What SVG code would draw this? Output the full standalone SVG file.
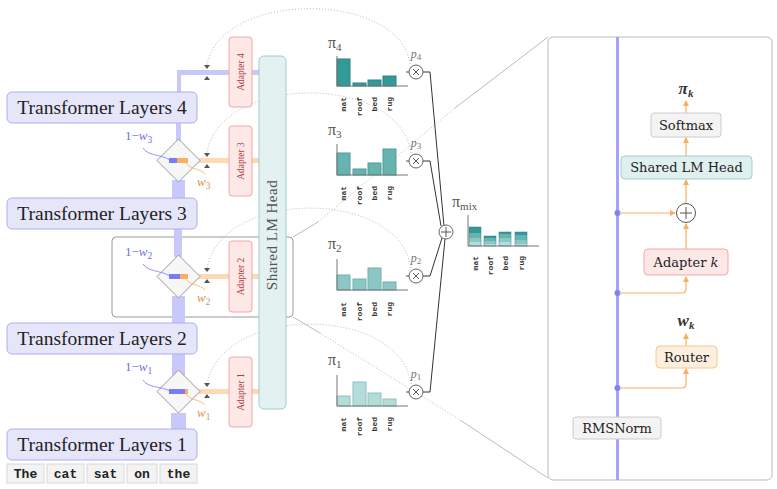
<svg xmlns="http://www.w3.org/2000/svg" width="777" height="489" viewBox="0 0 777 489">
<defs>
<style>
.tl rect{fill:#e6e6fb;stroke:#adadf2;stroke-width:1}
.tl text{font-family:"Liberation Serif",serif;font-size:19.5px;fill:#222;text-anchor:middle}
.tok rect{fill:#f3f3f3;stroke:#d8d8d8;stroke-width:1}
.tok text{font-family:"Liberation Mono",monospace;font-size:13px;font-weight:bold;fill:#222;text-anchor:middle}
.ad rect{fill:#fde8e8;stroke:#f4a6a6;stroke-width:1}
.ad text{font-family:"Liberation Serif",serif;font-size:9.5px;fill:#b03a3a;text-anchor:middle}
.dia{fill:#f7f7f7;stroke:#999;stroke-width:1}
.res{fill:#c8c8fa}
.org{fill:#fdd9b5}
.dot{fill:none;stroke:#bbb;stroke-width:1;stroke-dasharray:1 2}
.tri{fill:#555}
.lbl{font-family:"Liberation Serif",serif;font-size:16px;fill:#555}
.pl{font-family:"Liberation Serif",serif;font-size:12px;font-style:italic;fill:#777;text-anchor:middle}
.ax{fill:none;stroke:#777;stroke-width:1}
.bl{font-family:"Liberation Mono",monospace;font-size:8px;font-weight:bold;fill:#333;text-anchor:end}
.op{fill:#fff;stroke:#666;stroke-width:1}
.opl{fill:none;stroke:#555;stroke-width:1}
.wire{fill:none;stroke:#333;stroke-width:1}
.ob{fill:none;stroke:#f8b060;stroke-width:1.2}
.bw{font-family:"Liberation Serif",serif;font-size:13px;fill:#7070e8}
.ow{font-family:"Liberation Serif",serif;font-size:13px;font-style:italic;fill:#e0924a}
.cb text{font-family:"DejaVu Serif",serif;font-size:13px;fill:#222;text-anchor:middle}
.math{font-family:"Liberation Serif",serif;font-size:17px;font-weight:bold;font-style:italic;fill:#333;text-anchor:middle}
</style>
<marker id="oarr" viewBox="0 0 6 6" refX="5" refY="3" markerWidth="5" markerHeight="5" orient="auto-start-reverse">
<path d="M0,0 L6,3 L0,6 z" fill="#f8b060"/>
</marker>
</defs>
<rect width="777" height="489" fill="#fff"/>

<!-- highlight box and callout lines -->
<g id="callout-links">
<rect x="112" y="237" width="181" height="80" rx="4" fill="none" stroke="#999" stroke-width="1"/>
<path d="M293 237 L318 222" stroke="#bbb" fill="none"/>
<path d="M318 222 L455 108" class="dot" stroke="#ccc"/>
<path d="M455 108 L548 37" stroke="#bbb" fill="none"/>
<path d="M293 317 L320 333" stroke="#bbb" fill="none"/>
<path d="M320 333 L460 420" class="dot" stroke="#ccc"/>
<path d="M460 420 L548 478" stroke="#bbb" fill="none"/>
</g>

<!-- connectors -->
<g id="connectors">
<rect class="res" x="171" y="413" width="15" height="18"/>
<rect class="res" x="172" y="352" width="13" height="24"/>
<rect class="res" x="172" y="296" width="13" height="28"/>
<rect class="res" x="174" y="227" width="8" height="30"/>
<rect class="res" x="172" y="180" width="13" height="20"/>
<rect class="res" x="176" y="121" width="5" height="20"/>
<rect class="res" x="177" y="70" width="4" height="24"/>
<rect class="res" x="177" y="70" width="83" height="5"/>
<rect class="org" x="199" y="158" width="61" height="5"/>
<rect class="org" x="199" y="274" width="61" height="5"/>
<rect class="org" x="199" y="389" width="61" height="5"/>
<path class="dot" d="M410 64 C400 -10 220 -10 207 65"/>
<path class="dot" d="M411 153 C400 73 220 73 207 153"/>
<path class="dot" d="M411 268 C400 188 220 188 207 269"/>
<path class="dot" d="M411 384 C400 304 220 304 207 385"/>
<path class="tri" d="M204 65 L210 65 L207 69 z M204 80 L210 80 L207 76 z"/>
<path class="tri" d="M204 153 L210 153 L207 157 z M204 168 L210 168 L207 164 z"/>
<path class="tri" d="M204 268 L210 268 L207 272 z M204 283 L210 283 L207 279 z"/>
<path class="tri" d="M204 383 L210 383 L207 387 z M204 398 L210 398 L207 394 z"/>
<path class="wire" d="M423 72 L430 72 L444 226"/>
<path class="wire" d="M423 161 L430 161 L441 226"/>
<path class="wire" d="M423 276 L430 276 L442 238"/>
<path class="wire" d="M423 392 L430 392 L445 239"/>
<path class="opl" d="M406 72 H409 M406 161 H409 M406 276 H409 M406 392 H409"/>
</g>

<!-- transformer layers -->
<g id="tl1" class="tl"><rect x="7" y="429" width="190" height="31" rx="5"/><text x="102" y="451">Transformer Layers 1</text></g>
<g id="tl2" class="tl"><rect x="7" y="323" width="190" height="31" rx="5"/><text x="102" y="345">Transformer Layers 2</text></g>
<g id="tl3" class="tl"><rect x="7" y="198" width="190" height="31" rx="5"/><text x="102" y="220">Transformer Layers 3</text></g>
<g id="tl4" class="tl"><rect x="7" y="92" width="190" height="31" rx="5"/><text x="102" y="114">Transformer Layers 4</text></g>

<!-- tokens -->
<g id="tokens" class="tok">
<rect x="7" y="464" width="37" height="19"/><text x="25.5" y="478">The</text>
<rect x="47" y="464" width="37" height="19"/><text x="65.5" y="478">cat</text>
<rect x="87" y="464" width="37" height="19"/><text x="105.5" y="478">sat</text>
<rect x="127" y="464" width="30" height="19"/><text x="142" y="478">on</text>
<rect x="160" y="464" width="37" height="19"/><text x="178.5" y="478">the</text>
</g>

<!-- routers / diamonds -->
<g id="router3">
<path class="dia" d="M178.5 139 L200 160.5 L178.5 182 L157 160.5 z"/>
<rect x="169" y="158" width="8" height="5" fill="#7b7bf5"/><rect x="177" y="158" width="11" height="5" fill="#f8b060"/>
<path d="M143 148 C148 156 160 154 170 160" fill="none" stroke="#7b7bf5" stroke-width="0.8"/>
<path d="M185 162 C190 170 200 168 205 174" fill="none" stroke="#f8b060" stroke-width="0.8"/>
<text class="bw" x="125" y="140">1−<tspan font-style="italic">w</tspan><tspan font-size="9.5" dy="3">3</tspan></text>
<text class="ow" x="197" y="186">w<tspan font-size="9.5" dy="3" font-style="normal">3</tspan></text>
</g>
<g id="router2">
<path class="dia" d="M178.5 255 L200 276.5 L178.5 298 L157 276.5 z"/>
<rect x="169" y="274" width="11" height="5" fill="#7b7bf5"/><rect x="180" y="274" width="8" height="5" fill="#f8b060"/>
<path d="M143 264 C148 272 160 270 170 276" fill="none" stroke="#7b7bf5" stroke-width="0.8"/>
<path d="M185 278 C190 286 200 284 205 290" fill="none" stroke="#f8b060" stroke-width="0.8"/>
<text class="bw" x="125" y="256">1−<tspan font-style="italic">w</tspan><tspan font-size="9.5" dy="3">2</tspan></text>
<text class="ow" x="197" y="302">w<tspan font-size="9.5" dy="3" font-style="normal">2</tspan></text>
</g>
<g id="router1">
<path class="dia" d="M178.5 370 L200 391.5 L178.5 413 L157 391.5 z"/>
<rect x="169" y="389" width="16" height="5" fill="#7b7bf5"/><rect x="185" y="389" width="3" height="5" fill="#f8b060"/>
<path d="M143 380 C148 388 160 386 170 391" fill="none" stroke="#7b7bf5" stroke-width="0.8"/>
<path d="M185 393 C190 401 200 399 205 405" fill="none" stroke="#f8b060" stroke-width="0.8"/>
<text class="bw" x="125" y="371">1−<tspan font-style="italic">w</tspan><tspan font-size="9.5" dy="3">1</tspan></text>
<text class="ow" x="197" y="417">w<tspan font-size="9.5" dy="3" font-style="normal">1</tspan></text>
</g>

<!-- adapters -->
<g id="adapter4" class="ad"><rect x="229" y="37" width="23" height="70" rx="3"/><text transform="translate(243.5 72) rotate(-90)">Adapter 4</text></g>
<g id="adapter3" class="ad"><rect x="229" y="126" width="23" height="70" rx="3"/><text transform="translate(243.5 161) rotate(-90)">Adapter 3</text></g>
<g id="adapter2" class="ad"><rect x="229" y="241" width="23" height="71" rx="3"/><text transform="translate(243.5 276.5) rotate(-90)">Adapter 2</text></g>
<g id="adapter1" class="ad"><rect x="229" y="357" width="23" height="70" rx="3"/><text transform="translate(243.5 392) rotate(-90)">Adapter 1</text></g>

<!-- shared LM head -->
<g id="lmhead">
<rect x="259" y="56" width="27" height="353" rx="5" fill="#e3f1f0" stroke="#9ccfca"/>
<text transform="translate(277 235) rotate(-90)" font-family="Liberation Serif, serif" font-size="15" fill="#555" text-anchor="middle" letter-spacing="0.5">Shared LM Head</text>
</g>

<!-- distributions -->
<g id="pi4">
<text class="lbl" x="328" y="48">π<tspan font-size="11" dy="3">4</tspan></text>
<rect x="337" y="59" width="13" height="27" fill="#339999" stroke="#2b8585"/>
<rect x="353" y="83" width="13" height="3" fill="#339999" stroke="#2b8585"/>
<rect x="368" y="80" width="13" height="6" fill="#339999" stroke="#2b8585"/>
<rect x="383" y="76" width="13" height="10" fill="#339999" stroke="#2b8585"/>
<path class="ax" d="M337 56 V86 H408"/>
<text class="bl" transform="translate(346 97) rotate(-90)">mat</text>
<text class="bl" transform="translate(362 97) rotate(-90)">roof</text>
<text class="bl" transform="translate(377 97) rotate(-90)">bed</text>
<text class="bl" transform="translate(392 97) rotate(-90)">rug</text>
</g>
<g id="pi3">
<text class="lbl" x="328" y="135">π<tspan font-size="11" dy="3">3</tspan></text>
<rect x="337" y="153" width="13" height="22" fill="#66b3b0" stroke="#4f9c99"/>
<rect x="353" y="169" width="13" height="6" fill="#66b3b0" stroke="#4f9c99"/>
<rect x="368" y="163" width="13" height="12" fill="#66b3b0" stroke="#4f9c99"/>
<rect x="383" y="149" width="13" height="26" fill="#66b3b0" stroke="#4f9c99"/>
<path class="ax" d="M337 144 V175 H408"/>
<text class="bl" transform="translate(346 186) rotate(-90)">mat</text>
<text class="bl" transform="translate(362 186) rotate(-90)">roof</text>
<text class="bl" transform="translate(377 186) rotate(-90)">bed</text>
<text class="bl" transform="translate(392 186) rotate(-90)">rug</text>
</g>
<g id="pi2">
<text class="lbl" x="328" y="249">π<tspan font-size="11" dy="3">2</tspan></text>
<rect x="337" y="275" width="13" height="15" fill="#8cc7c5" stroke="#72b1ae"/>
<rect x="353" y="279" width="13" height="11" fill="#8cc7c5" stroke="#72b1ae"/>
<rect x="368" y="268" width="13" height="22" fill="#8cc7c5" stroke="#72b1ae"/>
<rect x="383" y="282" width="13" height="8" fill="#8cc7c5" stroke="#72b1ae"/>
<path class="ax" d="M337 259 V290 H408"/>
<text class="bl" transform="translate(346 302) rotate(-90)">mat</text>
<text class="bl" transform="translate(362 302) rotate(-90)">roof</text>
<text class="bl" transform="translate(377 302) rotate(-90)">bed</text>
<text class="bl" transform="translate(392 302) rotate(-90)">rug</text>
</g>
<g id="pi1">
<text class="lbl" x="328" y="365">π<tspan font-size="11" dy="3">1</tspan></text>
<rect x="337" y="396" width="13" height="10" fill="#b3dcda" stroke="#8fc2bf"/>
<rect x="353" y="382" width="13" height="24" fill="#b3dcda" stroke="#8fc2bf"/>
<rect x="368" y="393" width="13" height="13" fill="#b3dcda" stroke="#8fc2bf"/>
<rect x="383" y="399" width="13" height="7" fill="#b3dcda" stroke="#8fc2bf"/>
<path class="ax" d="M337 375 V406 H408"/>
<text class="bl" transform="translate(346 417) rotate(-90)">mat</text>
<text class="bl" transform="translate(362 417) rotate(-90)">roof</text>
<text class="bl" transform="translate(377 417) rotate(-90)">bed</text>
<text class="bl" transform="translate(392 417) rotate(-90)">rug</text>
</g>

<!-- multiply nodes -->
<g id="mul4"><text class="pl" x="416" y="58">p<tspan font-size="9" dy="2" font-style="normal">4</tspan></text><circle class="op" cx="416" cy="72" r="7"/><path class="opl" d="M413 69 L419 75 M419 69 L413 75"/></g>
<g id="mul3"><text class="pl" x="416" y="147">p<tspan font-size="9" dy="2" font-style="normal">3</tspan></text><circle class="op" cx="416" cy="161" r="7"/><path class="opl" d="M413 158 L419 164 M419 158 L413 164"/></g>
<g id="mul2"><text class="pl" x="416" y="262">p<tspan font-size="9" dy="2" font-style="normal">2</tspan></text><circle class="op" cx="416" cy="276" r="7"/><path class="opl" d="M413 273 L419 279 M419 273 L413 279"/></g>
<g id="mul1"><text class="pl" x="416" y="378">p<tspan font-size="9" dy="2" font-style="normal">1</tspan></text><circle class="op" cx="416" cy="392" r="7"/><path class="opl" d="M413 389 L419 395 M419 389 L413 395"/></g>

<!-- sum node -->
<g id="sum"><circle class="op" cx="446" cy="232" r="7"/><path class="opl" d="M446 227 V237 M441 232 H451"/></g>

<!-- pi mix -->
<g id="pimix">
<text class="lbl" x="452" y="207">π<tspan font-size="11" dy="3">mix</tspan></text>
<rect x="469" y="242" width="12" height="4" fill="#b3dcda"/><rect x="469" y="238" width="12" height="4" fill="#8cc7c5"/><rect x="469" y="233" width="12" height="5" fill="#66b3b0"/><rect x="469" y="227" width="12" height="6" fill="#339999"/>
<rect x="484" y="244" width="12" height="2" fill="#b3dcda"/><rect x="484" y="241" width="12" height="3" fill="#8cc7c5"/><rect x="484" y="238" width="12" height="3" fill="#66b3b0"/><rect x="484" y="236" width="12" height="2" fill="#339999"/>
<rect x="499" y="242" width="12" height="4" fill="#b3dcda"/><rect x="499" y="238" width="12" height="4" fill="#8cc7c5"/><rect x="499" y="234" width="12" height="4" fill="#66b3b0"/><rect x="499" y="232" width="12" height="2" fill="#339999"/>
<rect x="515" y="244" width="12" height="2" fill="#b3dcda"/><rect x="515" y="240" width="12" height="4" fill="#8cc7c5"/><rect x="515" y="235" width="12" height="5" fill="#66b3b0"/><rect x="515" y="232" width="12" height="3" fill="#339999"/>
<g fill="none" stroke="#2b8585" stroke-width="0.5">
<rect x="469" y="227" width="12" height="19"/><rect x="484" y="236" width="12" height="10"/><rect x="499" y="232" width="12" height="14"/><rect x="515" y="232" width="12" height="14"/>
</g>
<path class="ax" d="M468 215 V246 H539"/>
<text class="bl" transform="translate(478 256) rotate(-90)">mat</text>
<text class="bl" transform="translate(493 256) rotate(-90)">roof</text>
<text class="bl" transform="translate(508 256) rotate(-90)">bed</text>
<text class="bl" transform="translate(524 256) rotate(-90)">rug</text>
</g>

<!-- callout detail -->
<g id="callout">
<rect x="548" y="37" width="224" height="443" rx="5" fill="#fff" stroke="#bbb"/>
<rect x="616" y="37" width="3" height="443" fill="#a4a4ff"/>
<circle cx="617.5" cy="213" r="3" fill="#8080ff"/>
<circle cx="617.5" cy="293" r="3" fill="#8080ff"/>
<circle cx="617.5" cy="388" r="3" fill="#8080ff"/>
<g id="callout-arrows">
<path class="ob" d="M686 113 V101" marker-end="url(#oarr)"/>
<path class="ob" d="M686 156 V138" marker-end="url(#oarr)"/>
<path class="ob" d="M686 203 V180" marker-end="url(#oarr)"/>
<path class="ob" d="M686 249 V224" marker-end="url(#oarr)"/>
<path class="ob" d="M619 213 H675" marker-end="url(#oarr)"/>
<path class="ob" d="M619 293 H682 Q686 293 686 289 V277" marker-end="url(#oarr)"/>
<path class="ob" d="M686 346 V334" marker-end="url(#oarr)"/>
<path class="ob" d="M619 388 H682 Q686 388 686 384 V369" marker-end="url(#oarr)"/>
</g>
<text class="math" x="686" y="94">π<tspan font-size="11" dy="3">k</tspan></text>
<g id="softmax" class="cb"><rect x="651" y="113" width="70" height="24" rx="3" fill="#f3f3f3" stroke="#ccc"/><text x="686" y="130">Softmax</text></g>
<g id="lmhead-k" class="cb"><rect x="621" y="156" width="131" height="23" rx="4" fill="#dff0ef" stroke="#9fd0cb"/><text x="686.5" y="172">Shared LM Head</text></g>
<g id="plus-k"><circle cx="686" cy="213" r="9.5" fill="#fff" stroke="#555"/><path d="M686 207 V219 M680 213 H692" stroke="#555" fill="none"/></g>
<g id="adapter-k" class="cb"><rect x="644" y="249" width="84" height="26" rx="4" fill="#fde8e8" stroke="#f4a6a6"/><text x="686" y="267">Adapter <tspan font-style="italic">k</tspan></text></g>
<text class="math" x="686" y="326">w<tspan font-size="11" dy="3">k</tspan></text>
<g id="router-k" class="cb"><rect x="656" y="346" width="61" height="22" rx="4" fill="#fdefdf" stroke="#f8c88a"/><text x="686.5" y="362">Router</text></g>
<g id="rmsnorm" class="cb"><rect x="573" y="417" width="88" height="22" rx="3" fill="#f3f3f3" stroke="#ccc"/><text x="617" y="433">RMSNorm</text></g>
</g>
</svg>
